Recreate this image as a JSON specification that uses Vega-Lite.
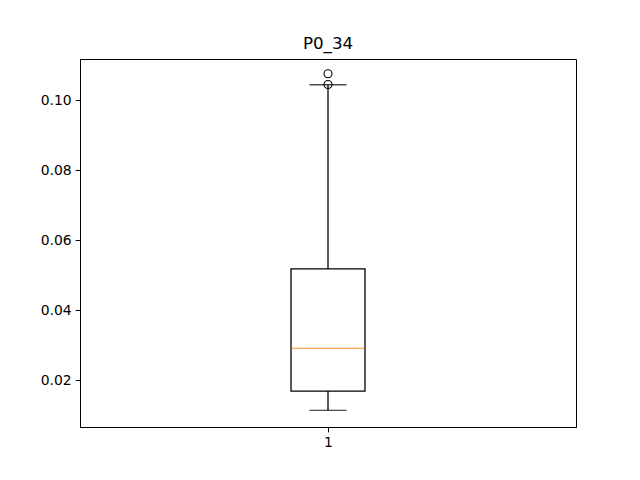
{
  "$schema": "https://vega.github.io/schema/vega-lite/v6.json",
  "width": 496,
  "height": 368,
  "autosize": "none",
  "padding": {"left": 80, "top": 59, "right": 64, "bottom": 53},
  "background": "white",
  "title": {"text": "P0_34", "font": "DejaVu Sans", "fontSize": 16.7, "fontWeight": "normal", "color": "black", "offset": 6, "anchor": "middle"},
  "config": {
    "view": {"stroke": "black", "strokeWidth": 1},
    "axis": {
      "grid": false,
      "domainColor": "black",
      "tickColor": "black",
      "tickSize": 4.9,
      "labelPadding": 4,
      "labelFont": "DejaVu Sans",
      "labelFontSize": 13.9,
      "labelColor": "black",
      "title": null
    }
  },
  "datasets": {
    "stats": [{"x": 1, "lower": 0.01134, "q1": 0.01686, "median": 0.02906, "q3": 0.0518, "upper": 0.10449}],
    "outliers": [{"x": 1, "value": 0.10763}, {"x": 1, "value": 0.10457}]
  },
  "layer": [
    {
      "data": {"name": "stats"},
      "mark": {"type": "rule", "color": "black", "strokeWidth": 1.3},
      "encoding": {
        "x": {"field": "x", "type": "quantitative", "scale": {"domain": [0.5, 1.5], "nice": false, "zero": false}, "axis": {"values": [1], "format": "d"}},
        "y": {"field": "lower", "type": "quantitative", "scale": {"domain": [0.00657, 0.11186], "nice": false, "zero": false}, "axis": {"values": [0.02, 0.04, 0.06, 0.08, 0.1], "format": ".2f"}},
        "y2": {"field": "upper"}
      }
    },
    {
      "data": {"name": "stats"},
      "mark": {"type": "bar", "fill": "white", "stroke": "black", "strokeWidth": 1.3, "size": 74},
      "encoding": {
        "x": {"field": "x", "type": "quantitative"},
        "y": {"field": "q1", "type": "quantitative"},
        "y2": {"field": "q3"}
      }
    },
    {
      "data": {"name": "stats"},
      "mark": {"type": "tick", "orient": "horizontal", "color": "#ff7f0e", "size": 73, "thickness": 1.3},
      "encoding": {
        "x": {"field": "x", "type": "quantitative"},
        "y": {"field": "median", "type": "quantitative"}
      }
    },
    {
      "data": {"name": "stats"},
      "mark": {"type": "tick", "orient": "horizontal", "color": "black", "size": 37, "thickness": 1.3},
      "encoding": {
        "x": {"field": "x", "type": "quantitative"},
        "y": {"field": "lower", "type": "quantitative"}
      }
    },
    {
      "data": {"name": "stats"},
      "mark": {"type": "tick", "orient": "horizontal", "color": "black", "size": 37, "thickness": 1.3},
      "encoding": {
        "x": {"field": "x", "type": "quantitative"},
        "y": {"field": "upper", "type": "quantitative"}
      }
    },
    {
      "data": {"name": "outliers"},
      "mark": {"type": "point", "shape": "circle", "filled": false, "stroke": "black", "strokeWidth": 1.1, "size": 64, "opacity": 1},
      "encoding": {
        "x": {"field": "x", "type": "quantitative"},
        "y": {"field": "value", "type": "quantitative"}
      }
    }
  ]
}
